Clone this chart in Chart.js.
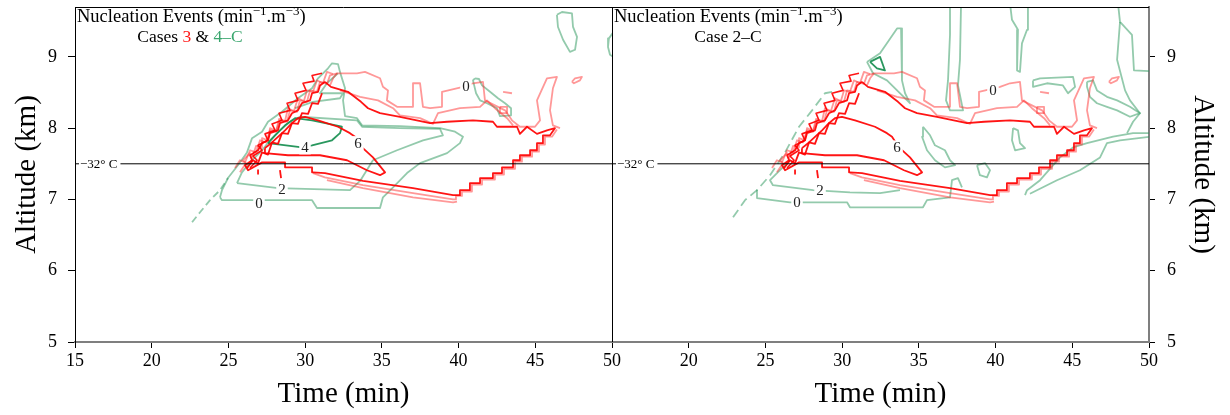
<!DOCTYPE html>
<html>
<head>
<meta charset="utf-8">
<script src="https://cdn.jsdelivr.net/npm/chart.js@4.4.0/dist/chart.umd.min.js"></script>
<style>
  html, body { margin: 0; padding: 0; background: #fff; }
  #wrap { position: relative; width: 1230px; height: 415px; overflow: hidden; }
  .box { position: absolute; top: 0; height: 415px; }
  #leftBox { left: 0; width: 624px; }
  #rightBox { left: 600px; width: 630px; }
</style>
</head>
<body>
<div id="wrap">
  <div class="box" id="leftBox"><canvas id="leftChart" width="624" height="415"></canvas></div>
  <div class="box" id="rightBox"><canvas id="rightChart" width="630" height="415"></canvas></div>
</div>
<script>
  // Axis ticks (time in min, altitude in km) and the -32 C level
  const timeTicks = [15, 20, 25, 30, 35, 40, 45, 50];
  const altitudeTicks = [5, 6, 7, 8, 9];
  const freezeLevel = 7.5;

  // Case 3 contours (red), same in both panels: [time, altitude]
  const case3Lvl6 = [[27.38,7.72],[27.84,7.80],[28.69,7.97],[29.14,8.07],[29.53,8.14],[29.99,8.16],[30.84,8.11],[32.14,8.02],[32.92,7.93],[33.25,7.88],[33.71,7.73],[34.42,7.59],[35.21,7.38],[34.88,7.34],[34.03,7.41],[32.73,7.55],[30.97,7.62],[28.88,7.62],[27.38,7.65],[27.38,7.72]];
  const case3Lvl2 = [[31.29,8.65],[31.68,8.58],[32.79,8.51],[33.64,8.37],[34.10,8.28],[34.88,8.21],[36.18,8.16],[38.14,8.07],[39.25,8.09],[40.94,8.11],[42.24,8.09],[42.50,8.02],[43.81,8.02],[44.00,7.92],[44.46,8.02],[45.11,7.92],[45.76,7.97],[46.28,8.00],[45.96,7.90],[45.50,7.90],[45.50,7.79],[45.11,7.79],[45.11,7.69],[44.66,7.69],[44.66,7.62],[44.00,7.62],[44.00,7.55],[43.55,7.55],[43.55,7.45],[42.83,7.45],[42.83,7.37],[42.24,7.37],[42.24,7.30],[41.40,7.30],[41.40,7.23],[40.74,7.23],[40.74,7.13],[40.09,7.13],[40.09,7.06],[39.64,7.06],[37.03,7.16],[33.77,7.26],[31.29,7.37],[30.51,7.38],[30.45,7.45],[28.69,7.45],[28.69,7.52],[27.19,7.52],[26.28,7.41],[26.08,7.48],[26.54,7.55],[26.41,7.62],[26.93,7.69],[27.19,7.79],[27.58,7.83],[27.71,7.93],[28.23,7.97],[28.36,8.07],[28.88,8.11],[29.14,8.21],[29.53,8.25],[29.79,8.35],[30.32,8.39],[30.45,8.49],[30.84,8.51],[30.97,8.60],[31.29,8.65]];
  const case3DiagRed = [[26.21,7.44],[26.60,7.55],[26.93,7.51],[27.19,7.66],[27.58,7.63],[27.84,7.80],[28.23,7.78],[28.49,7.93],[28.88,7.92],[29.14,8.07],[29.53,8.06],[29.79,8.21],[30.19,8.20],[30.45,8.35],[30.84,8.34],[31.10,8.49]];
  const case3DiagRed2 = [[26.41,7.44],[26.87,7.55],[26.60,7.61],[27.19,7.69],[26.93,7.76],[27.58,7.83],[27.38,7.92],[28.04,7.97],[27.84,8.06],[28.49,8.11],[28.30,8.21],[29.01,8.25],[28.82,8.35],[29.53,8.39],[29.34,8.49],[30.06,8.53],[29.86,8.63],[30.58,8.66],[30.45,8.74],[31.10,8.77]];
  const case3TickA = [[26.93,7.41],[26.93,7.36]];
  const case3TickB = [[28.36,7.41],[28.43,7.30]];
  const case3Lvl0Top = [[31.62,8.60],[31.82,8.70],[32.08,8.77],[33.38,8.77],[33.90,8.79],[34.88,8.70],[35.07,8.58],[35.40,8.53],[35.33,8.39],[35.99,8.30],[37.03,8.30],[37.03,8.63],[37.49,8.63],[37.68,8.30],[38.14,8.28],[38.92,8.30],[38.92,8.51],[40.29,8.58],[40.94,8.63],[41.59,8.65],[41.72,8.39],[42.37,8.32],[43.03,8.25],[43.48,8.11],[44.00,8.02],[44.98,8.02],[45.31,8.11],[45.11,8.39],[45.76,8.70],[46.41,8.72],[46.15,8.56],[45.96,8.25],[46.15,8.04],[46.61,8.00]];
  const case3Lvl1Top = [[32.27,8.53],[33.58,8.44],[34.75,8.39],[35.73,8.28],[36.18,8.18],[37.49,8.14],[38.33,8.06],[38.66,8.21],[40.09,8.28],[41.40,8.30],[41.85,8.39],[42.37,8.28],[43.16,8.14],[43.55,8.04]];
  const case3Lvl0Low = [[30.51,7.37],[31.29,7.31],[33.77,7.20],[37.03,7.09],[39.64,7.00],[39.83,7.00],[39.83,7.05],[40.22,7.05],[40.22,7.11],[40.87,7.11],[40.87,7.21],[41.53,7.21],[41.53,7.28],[42.37,7.28],[42.37,7.35],[42.96,7.35],[42.96,7.43],[43.68,7.43],[43.68,7.53],[44.13,7.53],[44.13,7.60],[44.79,7.60],[44.79,7.67],[45.24,7.67],[45.24,7.77],[45.63,7.77],[45.63,7.88],[46.09,7.88],[46.41,7.98]];
  const case3Lvl0Low2 = [[31.42,7.27],[33.77,7.16],[37.03,7.03],[39.64,6.96],[39.90,6.97]];
  const case3DiagPink = [[25.43,7.44],[25.75,7.55],[26.08,7.52],[26.41,7.69],[26.80,7.66],[27.06,7.83],[27.45,7.80],[27.71,7.97],[28.10,7.95],[28.36,8.11],[28.82,8.09],[29.01,8.25],[29.47,8.23],[29.66,8.39],[30.12,8.37],[30.32,8.53],[30.77,8.51],[30.97,8.65],[31.42,8.62],[31.62,8.74],[32.08,8.77]];
  const case3DiagPink2 = [[25.75,7.38],[26.15,7.51],[25.95,7.55],[26.41,7.65],[26.54,7.58],[26.80,7.75],[27.19,7.73],[27.19,7.86],[27.58,7.83],[27.71,8.00],[28.10,7.96],[28.30,8.13],[28.69,8.10],[28.88,8.28],[29.27,8.24],[29.53,8.42],[29.92,8.38],[30.12,8.53],[30.51,8.51],[30.77,8.67],[31.16,8.63],[31.42,8.79],[31.82,8.76]];
  const case3Dash = [[42.90,8.51],[43.48,8.49]];
  const case3Blob = [[42.70,8.30],[43.16,8.30],[43.16,8.21],[42.70,8.21],[42.70,8.30]];
  const case3Loop = [[47.39,8.65],[47.59,8.70],[48.04,8.72],[47.91,8.67],[47.52,8.63],[47.39,8.65]];

  // Case 4-C contours (green, left panel)
  const case4cLvl0 = [[24.45,7.03],[24.58,6.99],[30.45,6.99],[30.77,6.88],[34.88,6.88],[35.07,7.03],[35.73,7.17],[36.64,7.37],[37.49,7.51],[39.25,7.65],[40.09,7.79],[40.29,7.88],[39.77,7.95],[38.79,8.00],[36.18,8.03],[33.71,8.04],[33.38,8.14],[32.60,8.17],[32.47,8.39],[32.60,8.56],[32.27,8.79],[32.14,8.90],[31.75,8.91],[31.49,8.84],[30.84,8.70],[30.45,8.56],[29.53,8.42],[28.49,8.23],[27.58,8.09],[27.19,7.95],[26.54,7.86],[26.21,7.66],[25.62,7.48],[24.97,7.30],[24.58,7.13],[24.45,7.03]];
  const case4cTail = [[22.63,6.68],[23.15,6.82],[23.80,6.99],[24.45,7.13],[24.97,7.30]];
  const case4cLvl2 = [[25.56,7.23],[28.23,7.16],[32.92,7.13],[33.58,7.26],[34.42,7.55],[35.99,7.69],[37.68,7.83],[38.98,7.90],[38.79,7.99],[36.18,8.00],[33.71,8.02],[33.38,8.11],[29.66,8.16],[29.01,8.09],[28.36,7.97],[27.71,7.83],[27.19,7.69],[26.41,7.52],[25.88,7.38],[25.56,7.23]];
  const case4cLvl4 = [[27.58,7.79],[29.79,7.73],[30.45,7.76],[31.75,7.83],[32.27,7.93],[32.40,8.02],[30.45,8.11],[29.34,8.14],[28.69,8.04],[28.04,7.90],[27.58,7.79]];
  const case4cWedge = [[29.34,8.28],[30.51,8.37],[32.27,8.42],[32.47,8.49],[30.97,8.49],[31.42,8.63],[32.14,8.77]];
  const case4cLoopA = [[41.07,8.70],[41.33,8.69],[41.53,8.60],[42.05,8.51],[42.57,8.42],[43.03,8.35],[43.42,8.28],[43.42,8.18],[42.70,8.17],[42.50,8.28],[41.85,8.35],[41.40,8.39],[41.14,8.49],[40.94,8.67],[41.07,8.70]];
  const case4cLoopB = [[46.41,9.59],[46.74,9.63],[47.39,9.61],[47.46,9.42],[47.72,9.28],[47.59,9.10],[47.26,9.07],[46.81,9.24],[46.48,9.42],[46.41,9.59]];
  const case4cEdge = [[50.1,9.35],[49.80,9.26],[49.74,9.14],[49.87,9.03],[50.1,9.00]];

  // Case 2-C contours (green, right panel)
  const case2cTail = [[22.89,6.75],[23.67,6.99],[24.45,7.13],[25.30,7.34],[26.28,7.66],[27.19,8.02],[28.04,8.25],[28.88,8.49],[29.34,8.51]];
  const case2cLvl0 = [[24.45,7.13],[24.45,7.02],[26.60,6.96],[30.32,6.96],[30.51,6.89],[35.27,6.89],[35.53,6.99],[37.03,7.03],[37.16,7.27],[37.55,7.30],[37.81,7.17]];
  const case2cLvl0East = [[41.92,7.06],[42.05,7.13],[42.90,7.27],[44.20,7.59],[45.05,7.73],[45.96,7.79],[47.66,7.88],[48.96,7.93],[50.1,7.93]];
  const case2cLvl2 = [[26.60,7.55],[25.95,7.41],[25.30,7.27],[25.49,7.20],[28.10,7.13],[30.51,7.10],[32.47,7.09],[33.77,7.13]];
  const case2cLvl2East = [[42.24,7.08],[44.00,7.27],[45.50,7.41],[46.81,7.59],[47.26,7.79],[48.11,7.83],[50.1,7.88]];
  const case2cWedge = [[31.62,8.93],[32.47,9.05],[33.58,9.40],[33.84,9.40],[33.90,8.67],[34.10,8.49],[34.42,8.35],[33.58,8.53],[32.92,8.67],[32.01,8.77],[31.62,8.93]];
  const case2cCore = [[31.82,8.93],[32.47,9.00],[32.79,8.81],[32.27,8.84],[31.82,8.93]];
  const case2cStreakA = [[37.03,9.75],[37.03,9.31],[36.90,8.67],[36.77,8.39],[37.03,8.25],[37.88,8.25],[37.55,8.60],[37.68,8.96],[37.75,9.75]];
  const case2cStreakB = [[40.94,9.75],[41.07,9.52],[41.46,9.38],[41.40,9.19],[41.40,8.81],[41.59,8.79],[41.72,9.19],[42.05,9.38],[42.11,9.75]];
  const case2cStreakC = [[47.98,9.75],[48.11,9.49],[48.89,9.31],[49.02,8.81],[50.1,8.80]];
  const case2cStreakD = [[48.11,9.49],[47.92,8.96],[48.44,8.53],[48.76,8.39],[49.41,8.21],[48.96,8.09],[48.57,7.93]];
  const case2cBlobA = [[42.44,8.67],[42.90,8.70],[45.05,8.72],[45.18,8.58],[44.72,8.49],[44.39,8.60],[43.35,8.63],[42.44,8.58],[42.44,8.67]];
  const case2cBlobB = [[41.14,8.00],[41.46,7.97],[41.59,7.79],[41.92,7.72],[41.27,7.69],[41.07,7.83],[41.14,8.00]];
  const case2cBlobC = [[35.27,8.02],[35.73,7.90],[36.05,7.76],[36.70,7.69],[37.03,7.55],[37.36,7.48],[36.70,7.45],[36.05,7.55],[35.53,7.69],[35.21,7.88],[35.27,8.02]];
  const case2cBlobD = [[38.79,7.48],[39.31,7.51],[39.64,7.41],[39.44,7.31],[38.98,7.34],[38.79,7.48]];
  const case2cBlobE = [[45.96,8.65],[46.35,8.67],[46.61,8.53],[47.26,8.44],[47.92,8.39],[48.76,8.30],[49.41,8.21],[48.76,8.16],[47.92,8.25],[47.26,8.30],[46.61,8.35],[46.15,8.44],[45.96,8.58],[45.96,8.65]];

  // Contour level labels [time, altitude, text]
  const leftLabels = [[26.99,6.95,'0'],[28.49,7.15,'2'],[29.99,7.73,'4'],[33.44,7.79,'6'],[40.48,8.59,'0']];
  const rightLabels = [[27.06,6.96,'0'],[28.56,7.13,'2'],[33.58,7.73,'6'],[39.83,8.53,'0']];

  const RED = 'rgba(255,0,0,0.92)';
  const PINK = 'rgba(255,40,40,0.48)';
  const GREEN_LIGHT = 'rgba(40,150,90,0.5)';
  const GREEN_DARK = 'rgba(30,145,85,0.95)';
  const SERIF = '"Liberation Serif", "DejaVu Serif", serif';

  Chart.defaults.font.family = SERIF;
  Chart.defaults.color = '#000';

  function trace(points, color, width, dash) {
    return {
      data: points.map(p => ({ x: p[0], y: p[1] })),
      showLine: true,
      borderColor: color,
      borderWidth: width || 1.8,
      borderDash: dash || [],
      borderJoinStyle: 'round',
      pointRadius: 0,
      pointHoverRadius: 0,
      fill: false,
      tension: 0
    };
  }

  const freezeTrace = () => trace([[15, freezeLevel], [50, freezeLevel]], '#000', 1);

  const redTraces = () => [
    trace(case3Lvl6, RED),
    trace(case3Lvl2, RED),
    trace(case3DiagRed, RED),
    trace(case3DiagRed2, RED, 1.6),
    trace(case3TickA, RED),
    trace(case3TickB, RED),
    trace(case3Lvl0Top, PINK),
    trace(case3Lvl1Top, PINK),
    trace(case3Lvl0Low, PINK),
    trace(case3Lvl0Low2, PINK),
    trace(case3DiagPink, PINK),
    trace(case3DiagPink2, PINK),
    trace(case3Dash, PINK),
    trace(case3Blob, PINK),
    trace(case3Loop, PINK)
  ];

  const green4c = [
    trace(case4cLvl4, GREEN_DARK),
    trace(case4cLvl2, GREEN_LIGHT),
    trace(case4cLvl0, GREEN_LIGHT),
    trace(case4cTail, GREEN_LIGHT, 1.8, [7, 4]),
    trace(case4cWedge, GREEN_LIGHT),
    trace(case4cLoopA, GREEN_LIGHT),
    trace(case4cLoopB, GREEN_LIGHT),
    trace(case4cEdge, GREEN_LIGHT)
  ];

  const green2c = [
    trace(case2cCore, GREEN_DARK),
    trace(case2cTail, GREEN_LIGHT, 1.8, [9, 5]),
    trace(case2cLvl0, GREEN_LIGHT),
    trace(case2cLvl0East, GREEN_LIGHT),
    trace(case2cLvl2, GREEN_LIGHT),
    trace(case2cLvl2East, GREEN_LIGHT),
    trace(case2cWedge, GREEN_LIGHT),
    trace(case2cStreakA, GREEN_LIGHT),
    trace(case2cStreakB, GREEN_LIGHT),
    trace(case2cStreakC, GREEN_LIGHT),
    trace(case2cStreakD, GREEN_LIGHT),
    trace(case2cBlobA, GREEN_LIGHT),
    trace(case2cBlobB, GREEN_LIGHT),
    trace(case2cBlobC, GREEN_LIGHT),
    trace(case2cBlobD, GREEN_LIGHT),
    trace(case2cBlobE, GREEN_LIGHT)
  ];

  // Draws the frame edges, the -32 C tag, contour labels and the panel title
  const panelDecor = {
    id: 'panelDecor',
    afterDatasetsDraw(chart, args, opts) {
      const { ctx, chartArea: a, scales: { x, y } } = chart;
      ctx.save();
      ctx.strokeStyle = '#000';
      ctx.lineWidth = 1;
      ctx.beginPath();
      ctx.moveTo(a.left, a.top + 0.5);
      ctx.lineTo(a.right, a.top + 0.5);
      const joinX = Math.round(opts.join === 'right' ? a.right : a.left) + 0.5;
      ctx.moveTo(joinX, a.top);
      ctx.lineTo(joinX, a.bottom);
      ctx.stroke();

      // -32 C tag on the reference line
      const fy = y.getPixelForValue(freezeLevel);
      ctx.font = '13px ' + SERIF;
      ctx.textBaseline = 'middle';
      ctx.textAlign = 'left';
      const tag = '\u221232\u00b0 C';
      const tw = ctx.measureText(tag).width;
      ctx.fillStyle = '#fff';
      ctx.fillRect(a.left + 4, fy - 6, tw + 4, 12);
      ctx.fillStyle = '#000';
      ctx.fillText(tag, a.left + 5, fy + 1);

      // contour labels
      ctx.font = '15px ' + SERIF;
      ctx.textAlign = 'center';
      for (const [lx, ly, t] of opts.labels) {
        const px = x.getPixelForValue(lx);
        const py = y.getPixelForValue(ly);
        const w = ctx.measureText(t).width;
        ctx.fillStyle = '#fff';
        ctx.fillRect(px - w / 2 - 2, py - 7, w + 4, 14);
        ctx.fillStyle = '#222';
        ctx.fillText(t, px, py + 1);
      }

      // title: Nucleation Events (min^-1.m^-3)
      ctx.textAlign = 'left';
      ctx.textBaseline = 'alphabetic';
      ctx.fillStyle = '#000';
      let cx = a.left + 2;
      const parts = [['Nucleation Events (min', 0], ['\u22121', 1], ['.m', 0], ['\u22123', 1], [')', 0]];
      for (const [t, sup] of parts) {
        ctx.font = (sup ? '13px ' : '18.5px ') + SERIF;
        ctx.fillText(t, cx, sup ? 15 : 22);
        cx += ctx.measureText(t).width;
      }

      // second title line, centred, with coloured pieces
      ctx.font = '17.5px ' + SERIF;
      const sub = opts.subtitle;
      const total = sub.reduce((s, p) => s + ctx.measureText(p[0]).width, 0);
      let sx = opts.subCenter - total / 2;
      for (const [t, col] of sub) {
        ctx.fillStyle = col;
        ctx.fillText(t, sx, 42);
        sx += ctx.measureText(t).width;
      }
      ctx.restore();
    }
  };

  function setTicks(values) {
    return s => { s.ticks = values.map(v => ({ value: v })); };
  }

  function makeChart(id, datasets, side) {
    const isLeft = side === 'left';
    return new Chart(document.getElementById(id), {
      type: 'scatter',
      data: { datasets },
      options: {
        responsive: false,
        animation: false,
        events: [],
        layout: { padding: isLeft ? { left: 0, right: 12, top: 7, bottom: 0 } : { left: 12, right: 0, top: 7, bottom: 0 } },
        scales: {
          x: {
            type: 'linear',
            min: 15,
            max: 50,
            afterBuildTicks: setTicks(timeTicks),
            afterFit: s => { s.height = 73; s.paddingLeft = 0; s.paddingRight = 0; },
            ticks: {
              font: { size: 18 },
              padding: 2,
              maxRotation: 0,
              autoSkip: false,
              callback: v => (!isLeft && v === 15) ? '' : String(v)
            },
            grid: { display: true, drawOnChartArea: false, drawTicks: true, tickLength: 6, tickColor: '#000', tickWidth: 1 },
            border: { display: true, color: '#7f7f7f', width: 2 },
            title: { display: true, text: 'Time (min)', font: { size: 29 }, padding: { top: 0, bottom: 3 } }
          },
          y: {
            type: 'linear',
            position: side,
            min: 5,
            max: 9.7,
            afterBuildTicks: setTicks(altitudeTicks),
            afterFit: s => { s.width = isLeft ? 75 : 81; s.paddingTop = 0; s.paddingBottom = 0; },
            ticks: { font: { size: 18 }, padding: isLeft ? 11 : 12, autoSkip: false },
            grid: { display: true, drawOnChartArea: false, drawTicks: true, tickLength: isLeft ? 7 : 6, tickColor: '#000', tickWidth: 1 },
            border: isLeft ? { display: true, color: '#000', width: 1 } : { display: true, color: '#7f7f7f', width: 2 },
            title: { display: true, text: 'Altitude (km)', font: { size: 29 }, padding: { top: 10, bottom: 0 } }
          }
        },
        plugins: {
          legend: { display: false },
          tooltip: { enabled: false },
          panelDecor: isLeft
            ? { join: 'right', labels: leftLabels, subCenter: 190, subtitle: [['Cases ', '#000'], ['3', '#ff1a1a'], [' & ', '#000'], ['4\u2013C', '#3aa66e']] }
            : { join: 'left', labels: rightLabels, subCenter: 128, subtitle: [['Case 2\u2013C', '#000']] }
        }
      },
      plugins: [panelDecor]
    });
  }

  makeChart('leftChart', [freezeTrace(), ...redTraces(), ...green4c], 'left');
  makeChart('rightChart', [freezeTrace(), ...redTraces(), ...green2c], 'right');
</script>
</body>
</html>
